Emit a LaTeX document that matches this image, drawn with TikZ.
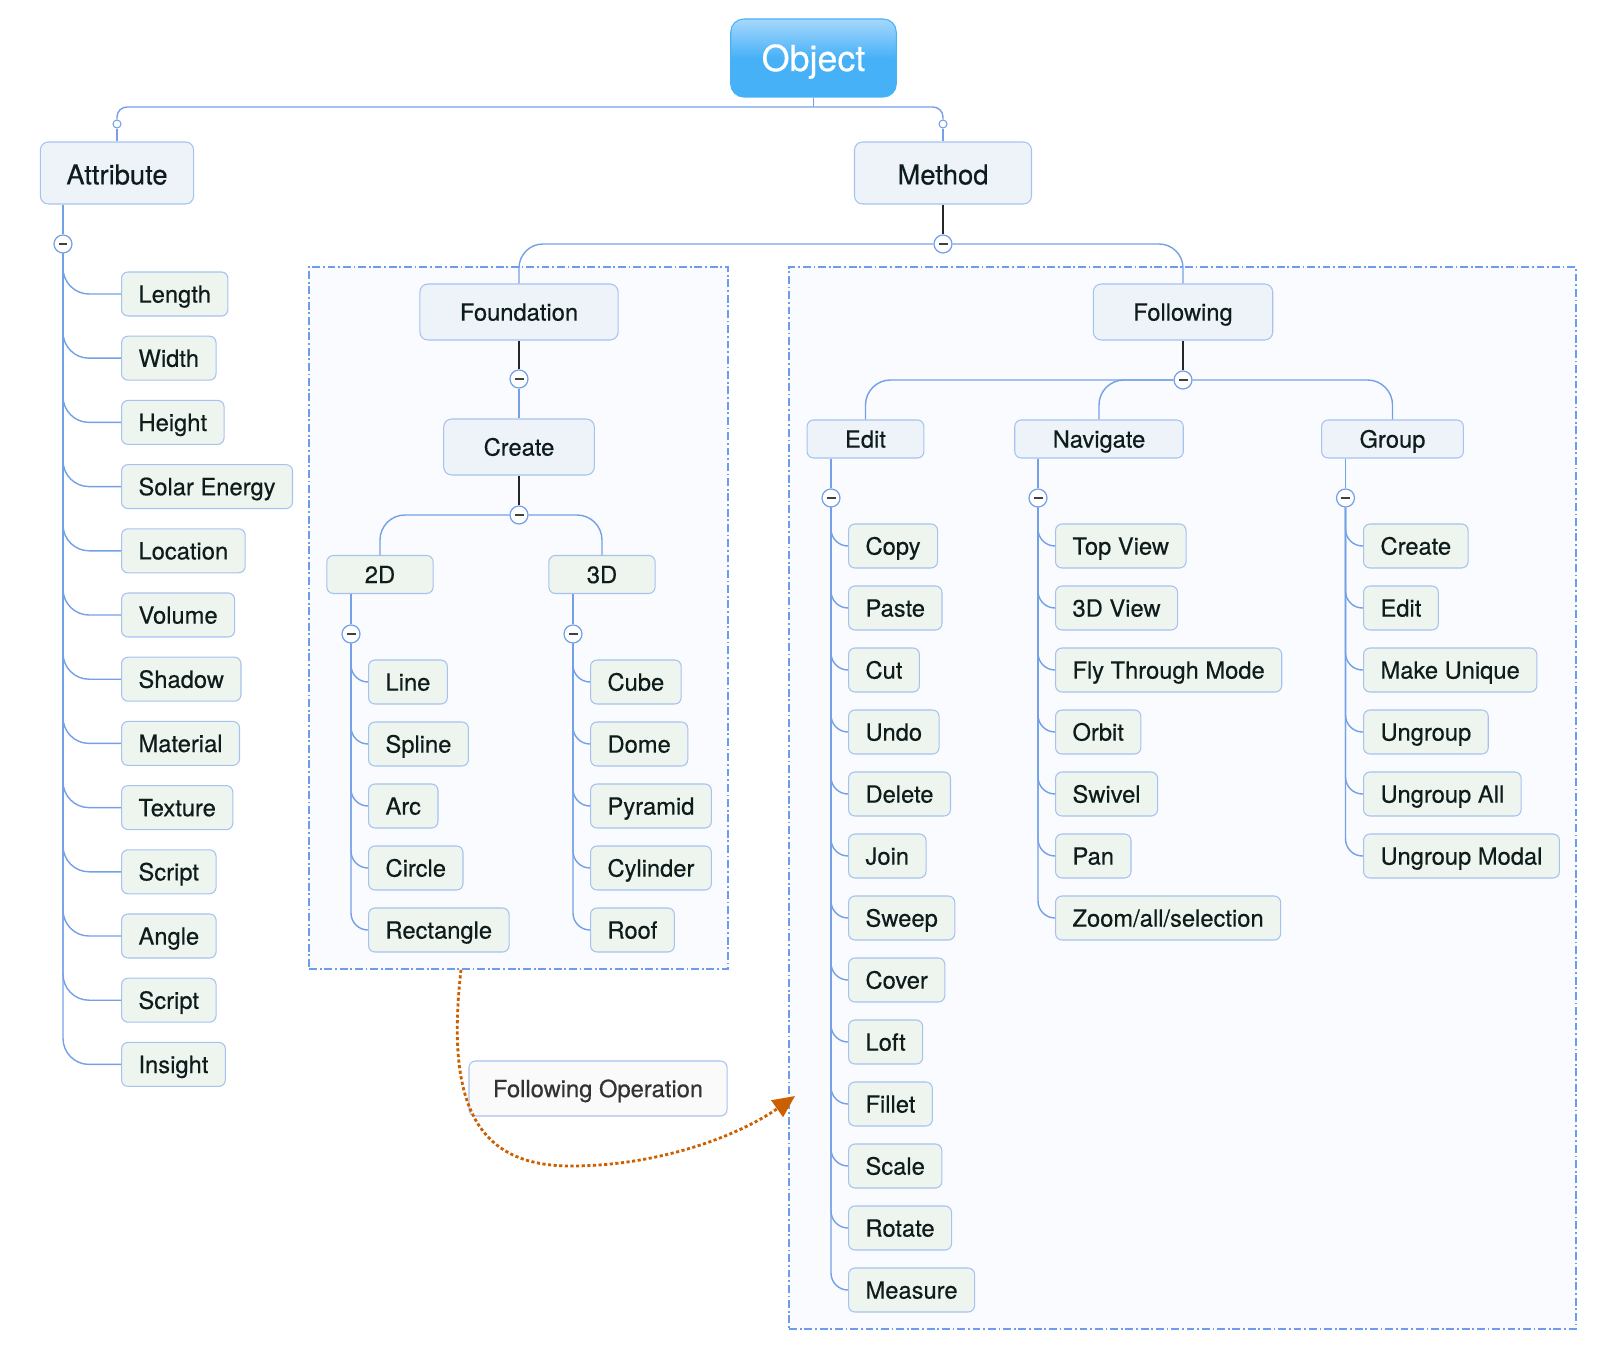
\documentclass[tikz,border=0pt]{standalone}
\usepackage[svgnames, dvipsnames]{xcolor}
\usepackage{fontspec}
\setmainfont{TeX Gyre Heros}[FakeBold=0.4]
\usetikzlibrary{arrows.meta}

\definecolor{LinkBlue}{HTML}{74A0E8}
\definecolor{BoxLine}{HTML}{A6C2F0}
\definecolor{LeafFill}{HTML}{EEF5EF}
\definecolor{TopicFill}{HTML}{EEF3FA}
\definecolor{FrameFill}{HTML}{F9FBFE}
\definecolor{FrameLine}{HTML}{6F9CEA}
\definecolor{ObjTop}{HTML}{A6D8FC}
\definecolor{ObjBlue}{HTML}{47B1F8}
\definecolor{InkDark}{HTML}{0E1C1C}
\definecolor{FlowOrange}{HTML}{CC6000}

\begin{document}
\begin{tikzpicture}[x=0.02cm, y=-0.02cm,
  font=\fontsize{13.5}{16}\selectfont,
  box/.style={draw=BoxLine, line width=0.6pt, rounded corners=0.13cm, text=InkDark, inner ysep=0pt,
    text height=9.8pt, text depth=0pt},
  leaf/.style={box, fill=LeafFill, minimum height=0.88cm, inner xsep=0.34cm, anchor=west},
  sub/.style={box, fill=TopicFill, minimum height=0.76cm, inner xsep=0.76cm},
  subleaf/.style={sub, fill=LeafFill},
  topic/.style={box, fill=TopicFill, minimum height=1.12cm, inner xsep=0.8cm, rounded corners=0.16cm},
  main/.style={topic, minimum height=1.24cm, font=\fontsize{15.6}{18}\selectfont, text height=13pt},
  link/.style={draw=LinkBlue, line width=0.8pt},
  stem/.style={draw=black!85, line width=0.8pt},
  fold/.style={circle, draw=LinkBlue, fill=white, line width=0.7pt, minimum size=0.36cm, inner sep=0pt,
    path picture={\draw[line width=0.7pt, black!75] ([xshift=-0.09cm]path picture bounding box.center) -- ([xshift=0.09cm]path picture bounding box.center);}},
  knob/.style={circle, draw=LinkBlue, fill=white, line width=0.6pt, minimum size=0.16cm, inner sep=0pt},
  frame/.style={draw=FrameLine, fill=FrameFill, line width=0.9pt, dash pattern=on 4.5pt off 1.6pt on 1pt off 1.6pt}]

\useasboundingbox (0,0) rectangle (1618,1354);

\node[frame, minimum width=8.38cm, minimum height=14.04cm] (lframe) at (518.5,618) {};
\node[frame, minimum width=15.74cm, minimum height=21.24cm] (rframe) at (1182.5,798) {};

\node[box, rounded corners=0.26cm, draw=ObjBlue, top color=ObjTop, bottom color=ObjBlue, middle color=ObjBlue,
  text=white, minimum height=1.56cm, inner xsep=0.62cm, font=\fontsize{20.4}{24}\selectfont, text height=14.8pt] (obj) at (813.5,58) {Object};
\node[main, inner xsep=0.52cm] (attr) at (117,173) {Attribute};
\node[main, inner xsep=0.86cm] (meth) at (943,173) {Method};
\node[knob] (attrknob) at (117,124) {};
\node[knob] (methknob) at (943,124) {};
\coordinate (objfoot) at (813.5,107);
\draw[link] (obj.south) -- (objfoot);
\draw[link, rounded corners=0.2cm] (objfoot) -| (attrknob.north);
\draw[link, rounded corners=0.2cm] (objfoot) -| (methknob.north);
\draw[link] (attrknob) -- (attr);
\draw[link] (methknob) -- (meth);

\node[fold] (attrfold) at (63,244) {};
\draw[link] (attrfold |- attr.south) -- (attrfold);
\foreach \name [count=\i from 0] in {Length, Width, Height, Solar Energy, Location, Volume, Shadow, Material, Texture, Script, Angle, Script, Insight}{
  \node[leaf] (attr-\i) at (121,294+64.2*\i) {\name};
  \draw[link, rounded corners=0.52cm] (attrfold.south) |- (attr-\i.west);
}

\node[fold] (methfold) at (943,244) {};
\draw[stem] (meth) -- (methfold);
\node[topic] (found) at (519,312) {Foundation};
\node[topic] (follow) at (1183,312) {Following};
\draw[link, rounded corners=0.48cm] (found.north) |- (methfold.west);
\draw[link, rounded corners=0.48cm] (follow.north) |- (methfold.east);

\node[fold] (foundfold) at (519,379) {};
\node[topic] (create) at (519,447) {Create};
\draw[stem] (found) -- (foundfold);
\draw[link] (foundfold) -- (create);
\node[fold] (createfold) at (519,515) {};
\draw[stem] (create) -- (createfold);
\node[subleaf] (twod) at (380,574.5) {2D};
\node[subleaf] (threed) at (602,574.5) {3D};
\draw[link, rounded corners=0.5cm] (twod.north) |- (createfold.west);
\draw[link, rounded corners=0.5cm] (threed.north) |- (createfold.east);

\node[fold] (twodfold) at (351,634) {};
\draw[link] (twodfold |- twod.south) -- (twodfold);
\foreach \name [count=\i from 0] in {Line, Spline, Arc, Circle, Rectangle}{
  \node[leaf] (twod-\i) at (368,682+62*\i) {\name};
  \draw[link, rounded corners=0.34cm] (twodfold.south) |- (twod-\i.west);
}
\node[fold] (threedfold) at (573,634) {};
\draw[link] (threedfold |- threed.south) -- (threedfold);
\foreach \name [count=\i from 0] in {Cube, Dome, Pyramid, Cylinder, Roof}{
  \node[leaf] (threed-\i) at (590,682+62*\i) {\name};
  \draw[link, rounded corners=0.34cm] (threedfold.south) |- (threed-\i.west);
}

\node[fold] (followfold) at (1183,380) {};
\draw[stem] (follow) -- (followfold);
\node[sub] (edit) at (865.5,439) {Edit};
\node[sub] (nav) at (1099,439) {Navigate};
\node[sub] (group) at (1392.5,439) {Group};
\draw[link, rounded corners=0.5cm] (edit.north) |- (followfold.west);
\draw[link, rounded corners=0.5cm] (nav.north) |- (followfold.west);
\draw[link, rounded corners=0.5cm] (group.north) |- (followfold.east);

\node[fold] (editfold) at (831,498) {};
\draw[link] (editfold |- edit.south) -- (editfold);
\foreach \name [count=\i from 0] in {Copy, Paste, Cut, Undo, Delete, Join, Sweep, Cover, Loft, Fillet, Scale, Rotate, Measure}{
  \node[leaf] (edit-\i) at (848,546+62*\i) {\name};
  \draw[link, rounded corners=0.34cm] (editfold.south) |- (edit-\i.west);
}
\node[fold] (navfold) at (1038,498) {};
\draw[link] (navfold |- nav.south) -- (navfold);
\foreach \name [count=\i from 0] in {Top View, 3D View, Fly Through Mode, Orbit, Swivel, Pan, Zoom/all/selection}{
  \node[leaf] (nav-\i) at (1055,546+62*\i) {\name};
  \draw[link, rounded corners=0.34cm] (navfold.south) |- (nav-\i.west);
}
\node[fold] (groupfold) at (1345.5,498) {};
\draw[link] (groupfold |- group.south) -- (groupfold);
\foreach \name [count=\i from 0] in {Create, Edit, Make Unique, Ungroup, Ungroup All, Ungroup Modal}{
  \node[leaf] (group-\i) at (1363,546+62*\i) {\name};
  \draw[link, rounded corners=0.34cm] (groupfold.south) |- (group-\i.west);
}

\node[box, fill=black!2, text=black!80, minimum height=1.1cm, inner xsep=0.48cm] (flowop) at (598,1088.5) {Following Operation};
\coordinate (flowstart) at ([xshift=-1.15cm]lframe.south);
\coordinate (flowend) at (795,1096);
\draw[FlowOrange, line width=1.6pt, dash pattern=on 1.8pt off 1.4pt, -{Triangle[length=0.44cm, width=0.4cm]}]
  (flowstart) .. controls (445,1110) and (480,1166) .. (571,1166) .. controls (660,1166) and (740,1135) .. (flowend);
\end{tikzpicture}
\end{document}
